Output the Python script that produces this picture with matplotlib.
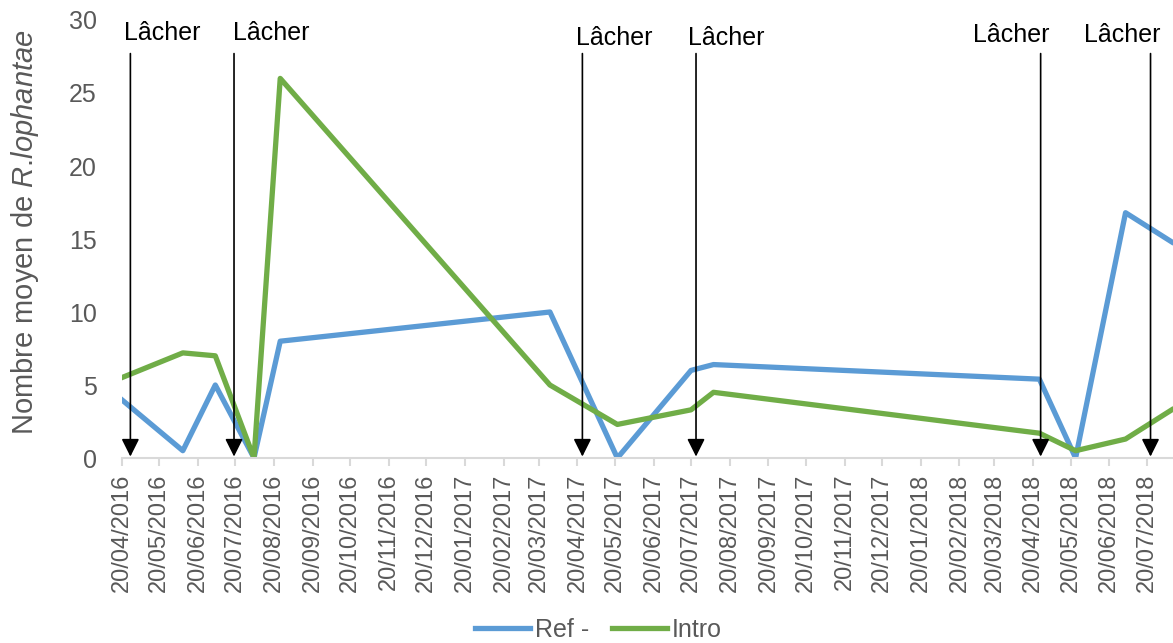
import matplotlib
matplotlib.use('Agg')
import matplotlib.pyplot as plt
import matplotlib.dates as mdates
import pandas as pd

plt.rcParams['font.family'] = ['Liberation Sans', 'DejaVu Sans']
plt.rcParams['mathtext.fontset'] = 'custom'
plt.rcParams['mathtext.it'] = 'Liberation Sans:italic'
plt.rcParams['mathtext.rm'] = 'Liberation Sans'

# données
dates = pd.to_datetime(['2016-04-20', '2016-06-08', '2016-07-04', '2016-08-04', '2016-08-25',
                        '2017-03-29', '2017-05-22', '2017-07-20', '2017-08-07', '2018-04-25',
                        '2018-05-24', '2018-07-03', '2018-08-09'])
ref = [4.0, 0.5, 5.0, 0.0, 8.0, 10.0, 0.0, 6.0, 6.4, 5.4, 0.0, 16.8, 14.8]
intro = [5.5, 7.2, 7.0, 0.0, 26.0, 5.0, 2.3, 3.3, 4.5, 1.7, 0.5, 1.3, 3.3]

# dates des lâchers
lachers = pd.to_datetime(['2016-04-27', '2016-07-19', '2017-04-24',
                          '2017-07-24', '2018-04-26', '2018-07-23'])
label_dx = [23, 27, 23, 22, -21, -20]   # décalage des étiquettes (points)
label_y = [28.6, 28.6, 28.3, 28.3, 28.5, 28.5]

gris = '#595959'

fig = plt.figure(figsize=(11.73, 6.43), dpi=100)
ax = fig.add_axes([0.1037, 0.2877, 0.8963, 0.6812])

ax.plot(dates, ref, color='#5B9BD5', lw=3.8, solid_joinstyle='round', label='Ref -')
ax.plot(dates, intro, color='#70AD47', lw=3.8, solid_joinstyle='round', label='Intro')

for d, dx, ly in zip(lachers, label_dx, label_y):
    ax.annotate('', xy=(d, 0.1), xytext=(d, 27.7),
                arrowprops=dict(arrowstyle='-|>,head_length=0.4,head_width=0.2',
                                color='black', lw=1.2, mutation_scale=27,
                                shrinkA=0, shrinkB=0))
    ax.annotate('Lâcher', xy=(d, ly), xytext=(dx, 0), textcoords='offset points',
                ha='center', va='baseline', fontsize=18, color='black')

ax.set_ylim(0, 30)
ax.set_yticks(range(0, 31, 5))
ax.set_xlim(pd.Timestamp('2016-04-20'), pd.Timestamp('2018-08-10'))
ax.xaxis.set_major_locator(mdates.MonthLocator(bymonthday=20))
ax.xaxis.set_major_formatter(mdates.DateFormatter('%d/%m/%Y'))
plt.setp(ax.get_xticklabels(), rotation=90)

for s in ['top', 'right', 'left']:
    ax.spines[s].set_visible(False)
ax.spines['bottom'].set_color('#D9D9D9')
ax.spines['bottom'].set_linewidth(1.5)
ax.tick_params(axis='x', length=6, width=1.5, color='#D9D9D9', labelcolor=gris,
               labelsize=17, pad=5)
ax.tick_params(axis='y', length=0, labelcolor=gris, labelsize=18, pad=18)

ax.set_ylabel(r'Nombre moyen de $\mathit{R}$.$\mathit{lophantae}$', fontsize=21, color=gris)
ax.yaxis.set_label_coords(-0.077, 0.515)

fig.legend(loc='center', bbox_to_anchor=(0.51, 0.02), ncol=2, frameon=False,
           fontsize=18, labelcolor=gris, handlelength=2.2, handletextpad=0.2,
           columnspacing=0.9)

plt.savefig('out.png', dpi=100)
